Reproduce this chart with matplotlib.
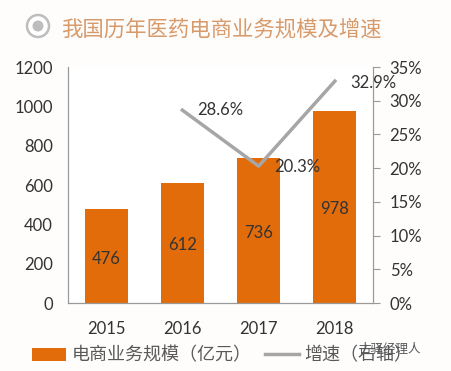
import matplotlib
matplotlib.use('Agg')
import matplotlib.pyplot as plt
from matplotlib.patches import Circle

plt.rcParams['font.family'] = ['Lato', 'Noto Sans CJK SC', 'DejaVu Sans']

years = ['2015', '2016', '2017', '2018']
sales = [476, 612, 736, 978]
growth_years = ['2016', '2017', '2018']
growth = [28.6, 20.3, 32.9]
growth_labels = ['28.6%', '20.3%', '32.9%']
left_ticks = [0, 200, 400, 600, 800, 1000, 1200]
right_ticks = [0, 5, 10, 15, 20, 25, 30, 35]

W, H = 452, 371
orange = '#E36C0A'
grey = '#A6A6A6'
dark = '#333333'

fig = plt.figure(figsize=(W / 100, H / 100), dpi=100, facecolor='#FEFDFC')
ax = fig.add_axes([68 / W, 1 - 303 / H, 305 / W, 236 / H])
ax.set_facecolor('white')
ax2 = ax.twinx()

bars = ax.bar(years, sales, width=0.565, color=orange, label='电商业务规模（亿元）')
ax.set_xlim(-0.5, 3.5)
ax.set_ylim(0, 1200)
ax.set_yticks(left_ticks)
ax.tick_params(axis='y', labelsize=12, colors=dark, length=0, pad=11)
ax.tick_params(axis='x', labelsize=12, colors=dark, length=0, pad=13)

# value labels inside the bars
for b, v in zip(bars, sales):
    ax.text(b.get_x() + b.get_width() / 2, v / 2 - 12, str(v), ha='center', va='center',
            fontsize=12, color=dark)

x_growth = [years.index(y) for y in growth_years]
line, = ax2.plot(x_growth, growth, color=grey, lw=2.5, label='增速（右轴）')
ax2.set_ylim(0, 35)
ax2.set_yticks(right_ticks)
ax2.set_yticklabels([f'{t}%' for t in right_ticks])
ax2.tick_params(axis='y', labelsize=12, colors=dark, length=5, width=0.8, color='#999999', pad=7)

ax2.text(x_growth[0] + 0.2, growth[0], growth_labels[0], fontsize=12, color=dark, va='center')
ax2.text(x_growth[1] + 0.2, growth[1] - 0.2, growth_labels[1], fontsize=12, color=dark, va='center')
ax2.text(x_growth[2] + 0.2, growth[2] - 0.3, growth_labels[2], fontsize=12, color=dark, va='center')

for a in (ax, ax2):
    a.spines['top'].set_visible(False)
    a.spines['left'].set_color('#999999')
    a.spines['right'].set_color('#999999')
    a.spines['bottom'].set_color('#999999')

# title with the round bullet
fig.text(61 / W, 1 - 29 / H, '我国历年医药电商业务规模及增速', fontsize=15.4, color='#D79A6B',
         va='center', ha='left')
fig.add_artist(Circle((38, H - 26), 11, transform=None, fc='white', ec='#BDBDBD', lw=1.8))
fig.add_artist(Circle((38, H - 26), 5.5, transform=None, fc='#BDBDBD', ec='none'))

# legend
fig.legend(handles=[bars, line], labels=['电商业务规模（亿元）', '增速（右轴）'], ncol=2,
           loc='center left', bbox_to_anchor=(32 / W, 1 - 355 / H), frameon=False,
           fontsize=13, labelcolor='#595959', handlelength=1.9, handletextpad=0.28,
           columnspacing=0.75, borderpad=0, borderaxespad=0)

# watermark over the legend text
fig.text(358 / W, 1 - 349 / H, '古驿经理人', fontsize=9, color='#555555', va='center', ha='left',
         bbox=dict(fc='white', ec='none', pad=1, alpha=0.7))

fig.savefig('out.png', dpi=100, facecolor=fig.get_facecolor())
